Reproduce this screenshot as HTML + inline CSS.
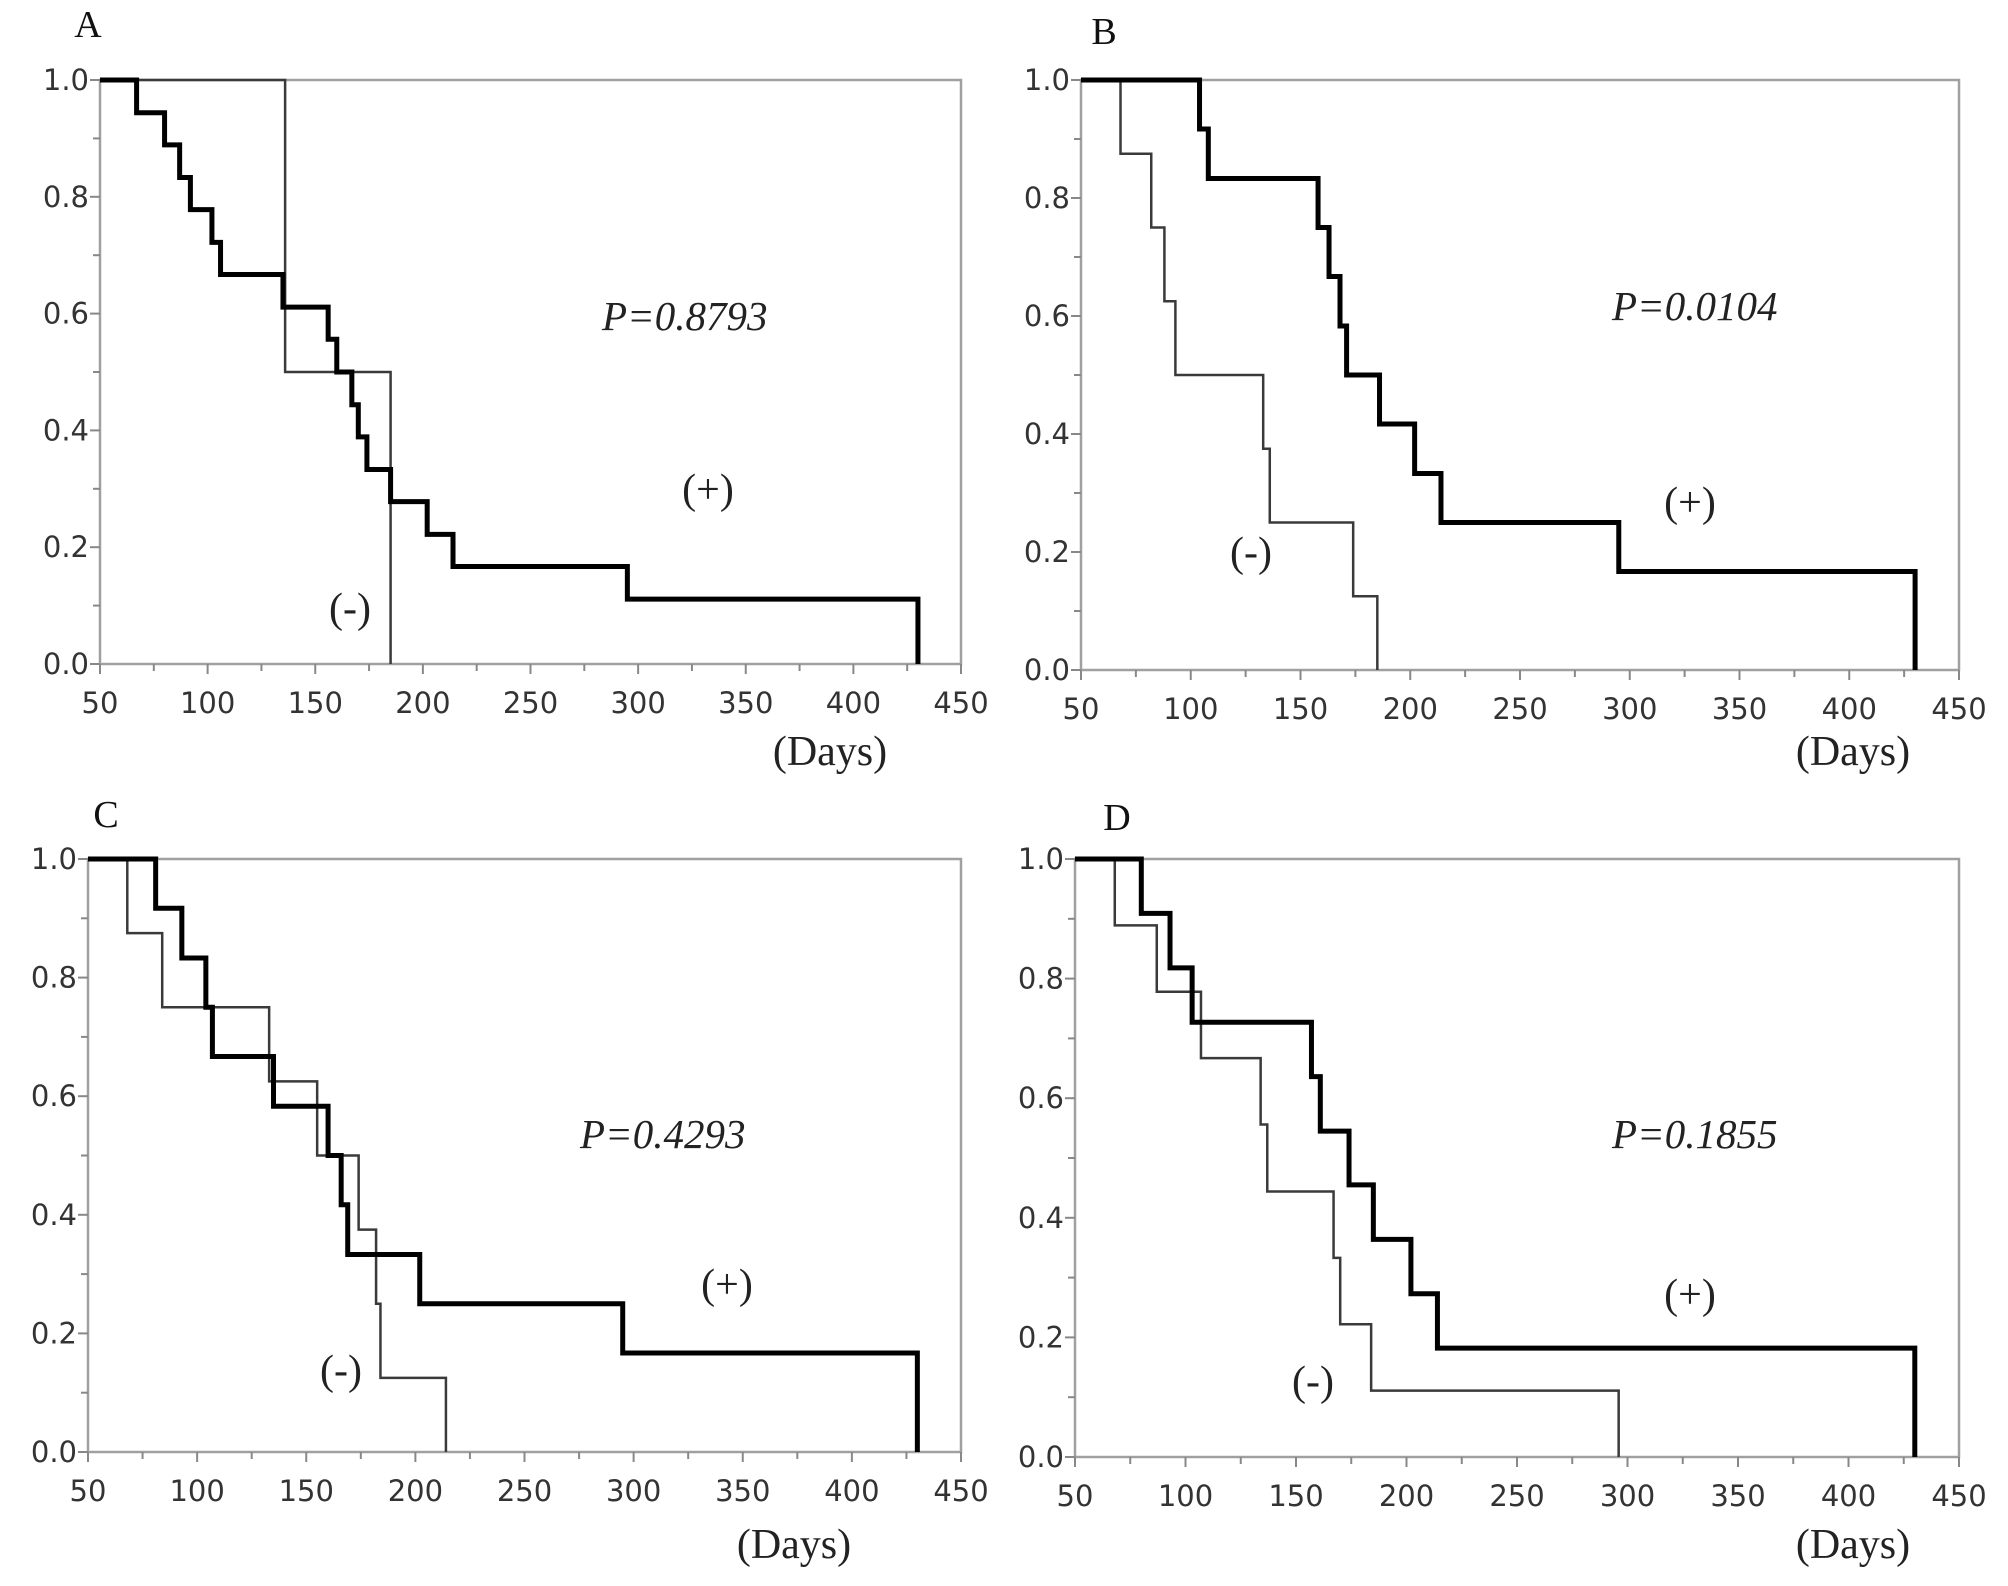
<!DOCTYPE html>
<html><head><meta charset="utf-8"><style>
html,body{margin:0;padding:0;background:#fff;}
svg{display:block;}
</style></head><body>
<svg id="fig" width="2008" height="1586" viewBox="0 0 2008 1586" xmlns="http://www.w3.org/2000/svg"></svg>
<script>
// ---- data ----
const panelLabels = ["A","B","C","D"];
const pValues = ["P=0.8793","P=0.0104","P=0.4293","P=0.1855"];
const xTicks = [50,100,150,200,250,300,350,400,450];
const yTicks = [0.0,0.2,0.4,0.6,0.8,1.0];
const posTimesA = [67,80,87,92,102,106,135,156,160,167,170,174,185,202,214,295,430];
const posSurvA  = [0.944,0.889,0.833,0.778,0.722,0.667,0.611,0.556,0.5,0.444,0.389,0.333,0.278,0.222,0.167,0.111,0];
const negTimesA = [136,185];
const negSurvA  = [0.5,0];
const posTimesB = [104,108,158,163,168,171,186,202,214,295,430];
const posSurvB  = [0.917,0.833,0.75,0.667,0.583,0.5,0.417,0.333,0.25,0.167,0];
const negTimesB = [68,82,88,93,133,136,174,185];
const negSurvB  = [0.875,0.75,0.625,0.5,0.375,0.25,0.125,0];
const posTimesC = [81,93,104,107,135,160,166,169,202,295,430];
const posSurvC  = [0.917,0.833,0.75,0.667,0.583,0.5,0.417,0.333,0.25,0.167,0];
const negTimesC = [68,84,133,155,174,182,184,214];
const negSurvC  = [0.875,0.75,0.625,0.5,0.375,0.25,0.125,0];
const posTimesD = [80,93,103,157,161,174,185,202,214,430];
const posSurvD  = [0.909,0.818,0.727,0.636,0.545,0.455,0.364,0.273,0.182,0];
const negTimesD = [68,87,107,134,137,167,170,184,296];
const negSurvD  = [0.889,0.778,0.667,0.556,0.444,0.333,0.222,0.111,0];

const NS="http://www.w3.org/2000/svg";
const svg=document.getElementById('fig');
function mk(tag,attrs,parent){const e=document.createElementNS(NS,tag);for(const k in attrs)e.setAttribute(k,attrs[k]);(parent||svg).appendChild(e);return e;}

const layouts=[
 {l:100,r:961,t:80,b:664,lab:[88,37],p:[602,330],plus:[708,503],minus:[350,622],days:[830,765]},
 {l:1081,r:1959,t:80,b:670,lab:[1104,44],p:[1612,320],plus:[1690,516],minus:[1251,566],days:[1853,765]},
 {l:88,r:961,t:859,b:1452,lab:[106,827],p:[580,1148],plus:[727,1298],minus:[341,1384],days:[794,1558]},
 {l:1075,r:1959,t:859,b:1457,lab:[1117,830],p:[1612,1148],plus:[1690,1308],minus:[1313,1395],days:[1853,1558]}
];
const series=[
 [posTimesA,posSurvA,negTimesA,negSurvA],
 [posTimesB,posSurvB,negTimesB,negSurvB],
 [posTimesC,posSurvC,negTimesC,negSurvC],
 [posTimesD,posSurvD,negTimesD,negSurvD]
];
const serif='"Liberation Serif", serif';
const sans='"DejaVu Sans", "Liberation Sans", sans-serif';

layouts.forEach((L,i)=>{
  const g=mk('g',{});
  
  
  const xs=v=>L.l+(v-50)/400*(L.r-L.l);
  const ys=v=>L.b-v*(L.b-L.t);
  const frame=mk('rect',{x:L.l,y:L.t,width:L.r-L.l,height:L.b-L.t,fill:'none',stroke:'#a0a0a0','stroke-width':2.5},g);
  
  
  for(let v=50;v<=450;v+=25){
    const major=v%50===0;
    mk('line',{x1:xs(v),x2:xs(v),y1:L.b,y2:L.b+(major?10:7),stroke:'#888','stroke-width':2},g);
  }
  xTicks.forEach(v=>{
    const t=mk('text',{x:xs(v),y:L.b+49,'text-anchor':'middle','font-family':sans,'font-size':29,fill:'#333'},g);
    t.textContent=v;
    
    
  });
  for(let k=0;k<=10;k++){
    const v=k/10;const major=k%2===0;
    mk('line',{x1:L.l-(major?10:7),x2:L.l,y1:ys(v),y2:ys(v),stroke:'#888','stroke-width':2},g);
  }
  yTicks.forEach(v=>{
    const t=mk('text',{x:L.l-11,y:ys(v)+10,'text-anchor':'end','font-family':sans,'font-size':29,fill:'#333'},g);
    t.textContent=v.toFixed(1);
    
    
  });
  const [pt,ps,nt,ns]=series[i];
  function stepPath(ts,ss){
    let d='M'+xs(50)+' '+ys(1);let cur=1;
    ts.forEach((t,j)=>{d+=' L'+xs(t)+' '+ys(cur)+' L'+xs(t)+' '+ys(ss[j]);cur=ss[j];});
    return d;
  }
  const neg=mk('path',{d:stepPath(nt,ns),fill:'none',stroke:'#3a3a3a','stroke-width':2.5},g);
  
  
  const pos=mk('path',{d:stepPath(pt,ps),fill:'none',stroke:'#000','stroke-width':5},g);
  
  
  const lab=mk('text',{x:L.lab[0],y:L.lab[1],'text-anchor':'middle','font-family':serif,'font-size':38,fill:'#111'},g);
  lab.textContent=panelLabels[i];
  
  
  const p=mk('text',{x:L.p[0],y:L.p[1],'text-anchor':'start','font-family':serif,'font-style':'italic','font-size':41,fill:'#222'},g);
  p.textContent=pValues[i];
  
  
  const pl=mk('text',{x:L.plus[0],y:L.plus[1],'text-anchor':'middle','font-family':serif,'font-size':42,fill:'#222'},g);
  pl.textContent='(+)';
  
  
  const mi=mk('text',{x:L.minus[0],y:L.minus[1],'text-anchor':'middle','font-family':serif,'font-size':42,fill:'#222'},g);
  mi.textContent='(-)';
  
  
  const dy=mk('text',{x:L.days[0],y:L.days[1],'text-anchor':'middle','font-family':serif,'font-size':42,fill:'#222'},g);
  dy.textContent='(Days)';
  
  
});
</script>
</body></html>
